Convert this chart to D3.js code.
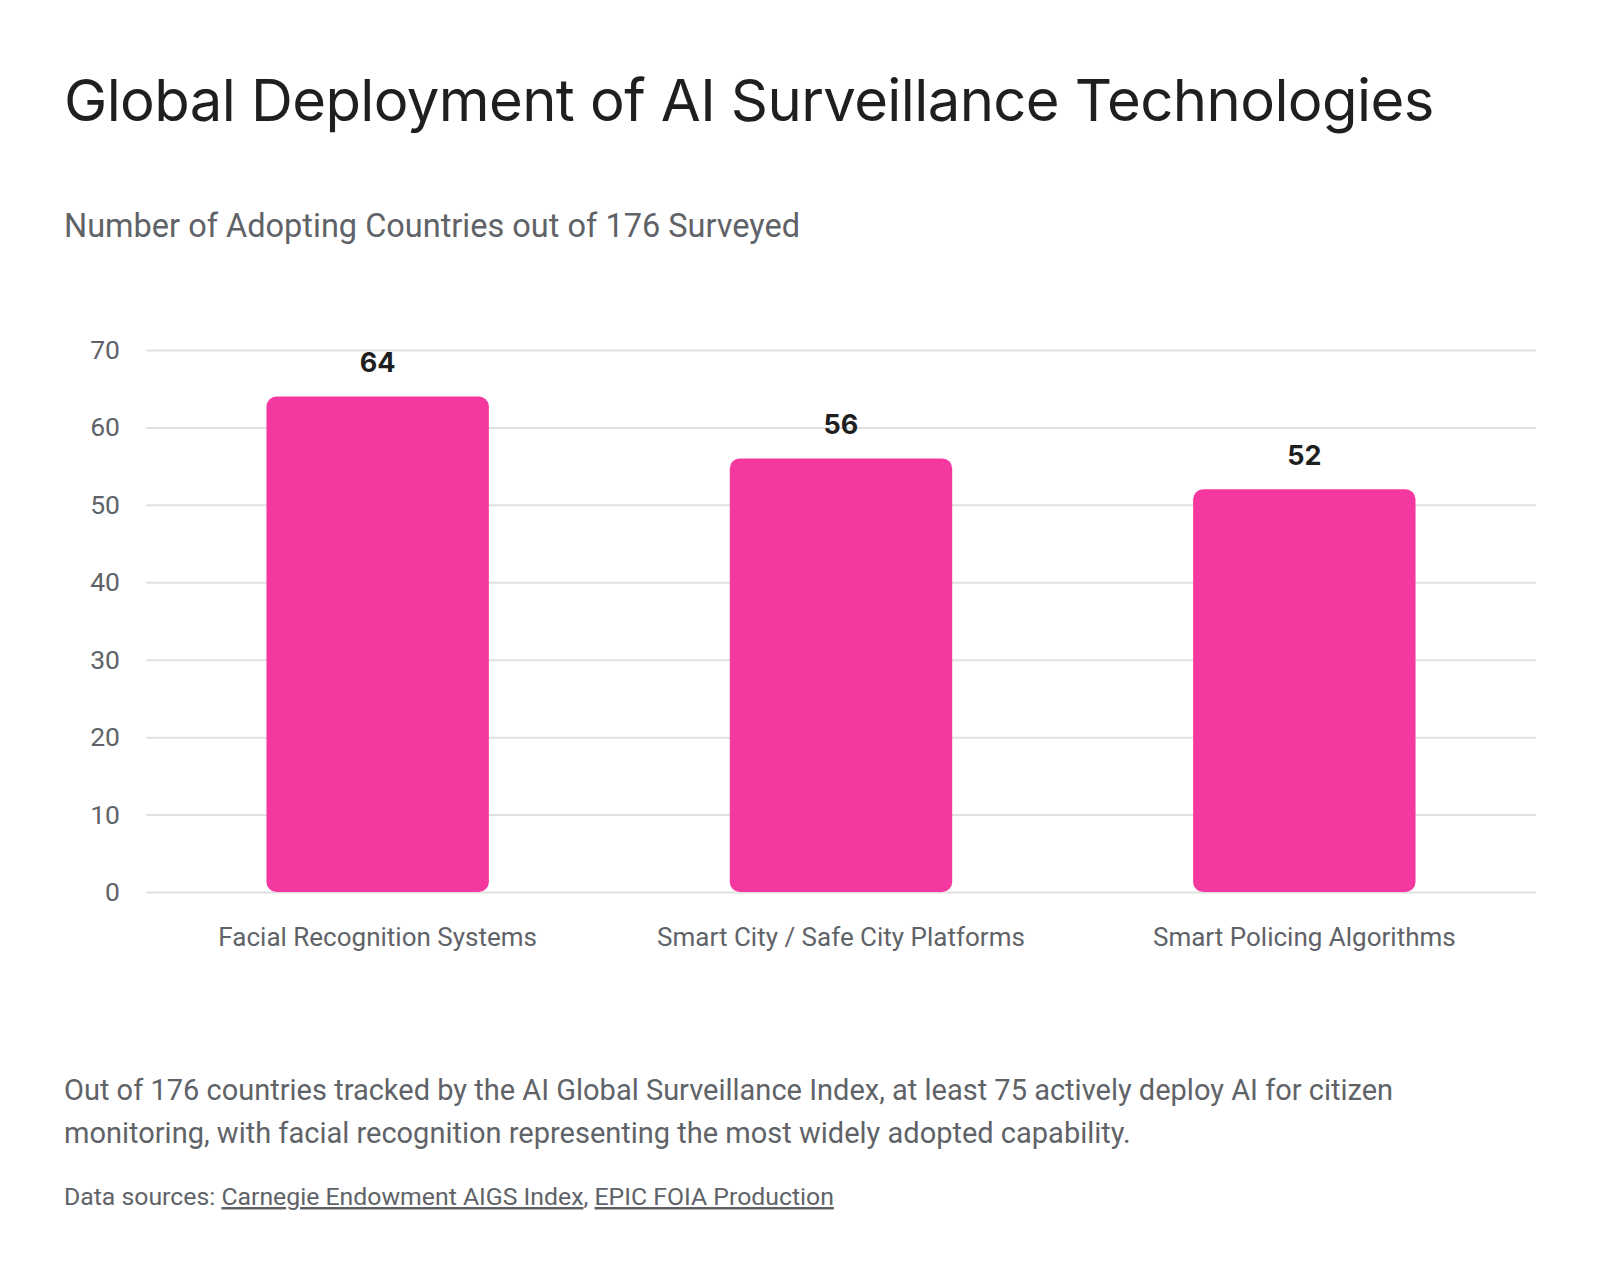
<!DOCTYPE html>
<html>
<head>
<meta charset="utf-8">
<script src="https://cdn.jsdelivr.net/npm/d3@7"></script>
<style>
  html, body { margin: 0; padding: 0; background: #fff; }
  svg { display: block; }
</style>
</head>
<body>
<svg id="chart" width="1600" height="1278"></svg>
<script>
const categories = ["Facial Recognition Systems", "Smart City / Safe City Platforms", "Smart Policing Algorithms"];
const values = [64, 56, 52];
const yTicks = [0, 10, 20, 30, 40, 50, 60, 70];
const titleText = "Global Deployment of AI Surveillance Technologies";
const subtitleText = "Number of Adopting Countries out of 176 Surveyed";
const captionLines = [
  "Out of 176 countries tracked by the AI Global Surveillance Index, at least 75 actively deploy AI for citizen",
  "monitoring, with facial recognition representing the most widely adopted capability."
];
const sources = ["Carnegie Endowment AIGS Index", "EPIC FOIA Production"];

(function () {
const svg = d3.select("#chart");
const mLeft = 146, mRight = 1536, mTop = 350, mBottom = 892;

svg.append("text").attr("x", 64).attr("y", 121)
  .attr("font-family", "Inter, 'Open Sans', sans-serif").attr("font-size", 58).attr("font-weight", 400)
  .attr("fill", "#1f1f1f").attr("letter-spacing", -0.6).text(titleText);

svg.append("text").attr("x", 64).attr("y", 237)
  .attr("font-family", "Roboto, sans-serif").attr("font-size", 32.5)
  .attr("fill", "#5f6368").text(subtitleText);

const x = d3.scaleBand().domain(categories).range([mLeft, mRight]).paddingInner(0.52).paddingOuter(0.26);
const y = d3.scaleLinear().domain([0, 70]).range([mBottom, mTop]);

const yAxis = d3.axisLeft(y).tickValues(yTicks).tickSize(-(mRight - mLeft)).tickPadding(26);
const gy = svg.append("g").attr("transform", `translate(${mLeft},0)`).call(yAxis);
gy.select(".domain").remove();
gy.selectAll(".tick line").attr("stroke", "#e0e0e0").attr("stroke-width", 2);
gy.selectAll(".tick text").attr("font-family", "Roboto, sans-serif").attr("font-size", 26.5)
  .attr("fill", "#5f6368");

svg.append("g").selectAll("rect").data(values).join("rect")
  .attr("x", (d, i) => x(categories[i]))
  .attr("y", d => y(d))
  .attr("width", x.bandwidth())
  .attr("height", d => y(0) - y(d))
  .attr("rx", 10).attr("ry", 10)
  .attr("fill", "#f538a0");

svg.append("g").selectAll("text").data(values).join("text")
  .attr("x", (d, i) => x(categories[i]) + x.bandwidth() / 2)
  .attr("y", d => y(d) - 24)
  .attr("text-anchor", "middle")
  .attr("font-family", "Inter, Roboto, sans-serif").attr("font-size", 27).attr("font-weight", 700)
  .attr("fill", "#1f1f1f").text(d => d);

const xAxis = d3.axisBottom(x).tickSize(0).tickPadding(36);
const gx = svg.append("g").attr("transform", `translate(0,${mBottom})`).call(xAxis);
gx.select(".domain").remove();
gx.selectAll(".tick text").attr("font-family", "Roboto, sans-serif").attr("font-size", 26)
  .attr("fill", "#5f6368");

svg.append("g").selectAll("text").data(captionLines).join("text")
  .attr("x", 64).attr("y", (d, i) => 1100 + i * 43)
  .attr("font-family", "Roboto, sans-serif").attr("font-size", 29)
  .attr("fill", "#5f6368").text(d => d);

const src = svg.append("text").attr("x", 64).attr("y", 1205)
  .attr("font-family", "Roboto, sans-serif").attr("font-size", 24.8).attr("fill", "#5f6368");
src.append("tspan").text("Data sources: ");
sources.forEach((s, i) => {
  src.append("tspan").attr("text-decoration", "underline").text(s);
  if (i < sources.length - 1) src.append("tspan").text(", ");
});
})();
</script>
</body>
</html>
